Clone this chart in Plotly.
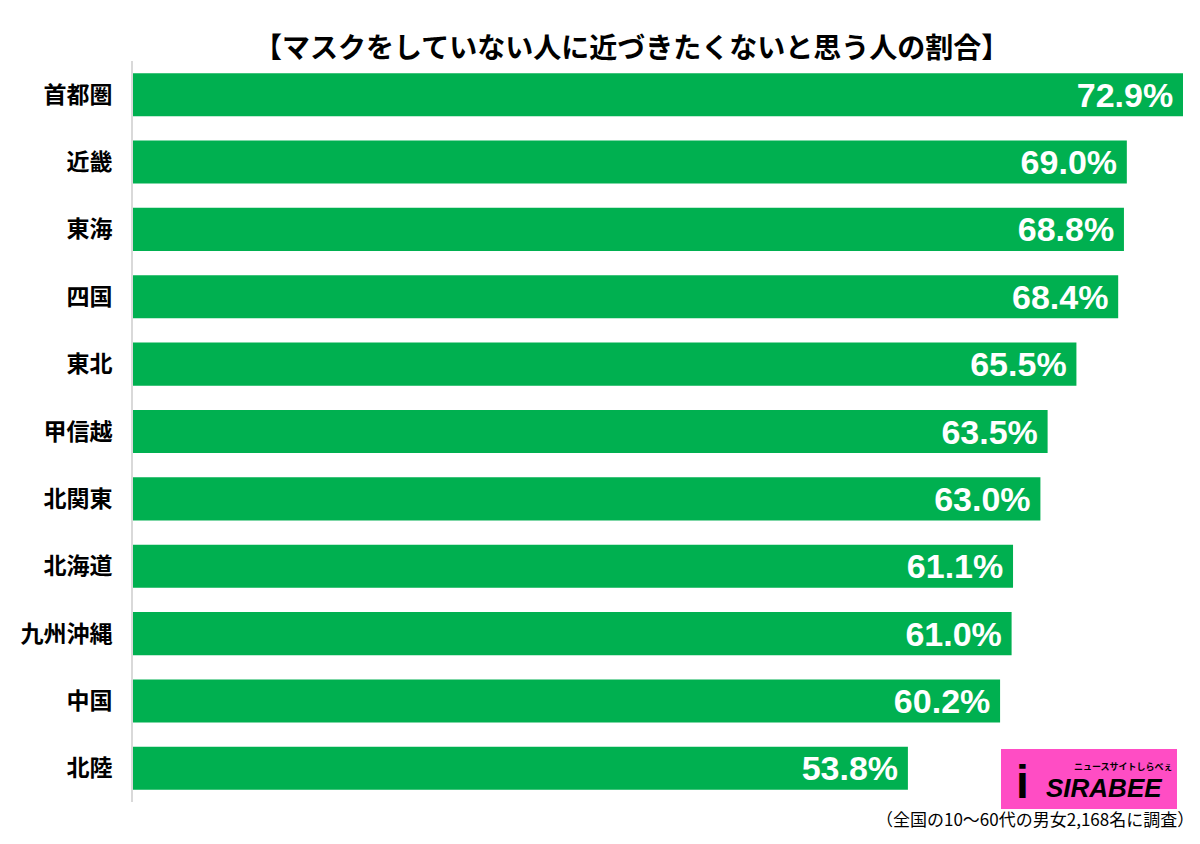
import plotly.graph_objects as go

regions = ["首都圏", "近畿", "東海", "四国", "東北", "甲信越", "北関東", "北海道", "九州沖縄", "中国", "北陸"]
values = [72.9, 69.0, 68.8, 68.4, 65.5, 63.5, 63.0, 61.1, 61.0, 60.2, 53.8]
labels = [f"{v:.1f}%\u2009" for v in values]

title_text = "【マスクをしていない人に近づきたくないと思う人の割合】"
note_text = "（全国の10～60代の男女2,168名に調査）"

# plot area in figure pixels (page is offset by 8px body margin)
L, T, W, H = 125, 53, 1050, 741


def px(X):
    return (X - 8 - L) / W


def py(Y):
    return (T + H - (Y - 8)) / H


fig = go.Figure(go.Bar(
    y=regions, x=values, orientation="h",
    marker=dict(color="#00B050", line=dict(width=0)),
    text=labels, textposition="inside", insidetextanchor="end",
    textfont=dict(family="Liberation Sans, Arial, sans-serif", size=34, color="white", weight="bold"),
    textangle=0,
))

fig.update_layout(
    width=1200, height=844,
    margin=dict(l=L, r=1200 - L - W, t=T, b=844 - T - H, autoexpand=False),
    paper_bgcolor="white", plot_bgcolor="white",
    bargap=0.36,
    showlegend=False,
    font=dict(family="Noto Sans CJK JP, sans-serif", color="black"),
    xaxis=dict(range=[0, 72.9], showgrid=False, showticklabels=False, zeroline=False,
               showline=False, fixedrange=True),
    yaxis=dict(autorange="reversed", showgrid=False, zeroline=False,
               showline=True, linecolor="#d9d9d9", linewidth=2, automargin=False,
               ticks="", ticklabelstandoff=14,
               tickfont=dict(family="Noto Sans CJK JP", size=23, color="black", weight="bold")),
    uniformtext=dict(minsize=34, mode="show"),
)

fig.add_annotation(text=title_text, xref="paper", yref="paper", x=px(631), y=py(46),
                   xanchor="center", yanchor="middle", showarrow=False,
                   font=dict(family="Noto Sans CJK JP", size=28, color="black", weight="bold"))

fig.add_annotation(text=note_text, xref="paper", yref="paper", x=px(1196), y=py(818),
                   xanchor="right", yanchor="middle", showarrow=False,
                   font=dict(family="Noto Sans CJK JP", size=17, color="black"))

# SIRABEE logo block
fig.add_shape(type="rect", xref="paper", yref="paper",
              x0=px(1001), x1=px(1177), y0=py(809), y1=py(749),
              fillcolor="#FF4DC4", line=dict(width=0), layer="above")
fig.add_annotation(text="<i>SIRABEE</i>", xref="paper", yref="paper",
                   x=px(1044), y=py(788),
                   xanchor="left", yanchor="middle", showarrow=False,
                   font=dict(family="Liberation Sans", size=26, color="black", weight="bold"))
fig.add_annotation(text="ニュースサイトしらべぇ", xref="paper", yref="paper",
                   x=px(1072), y=py(766),
                   xanchor="left", yanchor="middle", showarrow=False,
                   font=dict(family="Noto Sans CJK JP", size=9, color="black", weight="bold"))
fig.add_annotation(text="<b>i</b>", xref="paper", yref="paper",
                   x=px(1014), y=py(782),
                   xanchor="left", yanchor="middle", showarrow=False,
                   font=dict(family="Liberation Sans", size=46, color="black"))

fig.write_html("out.html")
